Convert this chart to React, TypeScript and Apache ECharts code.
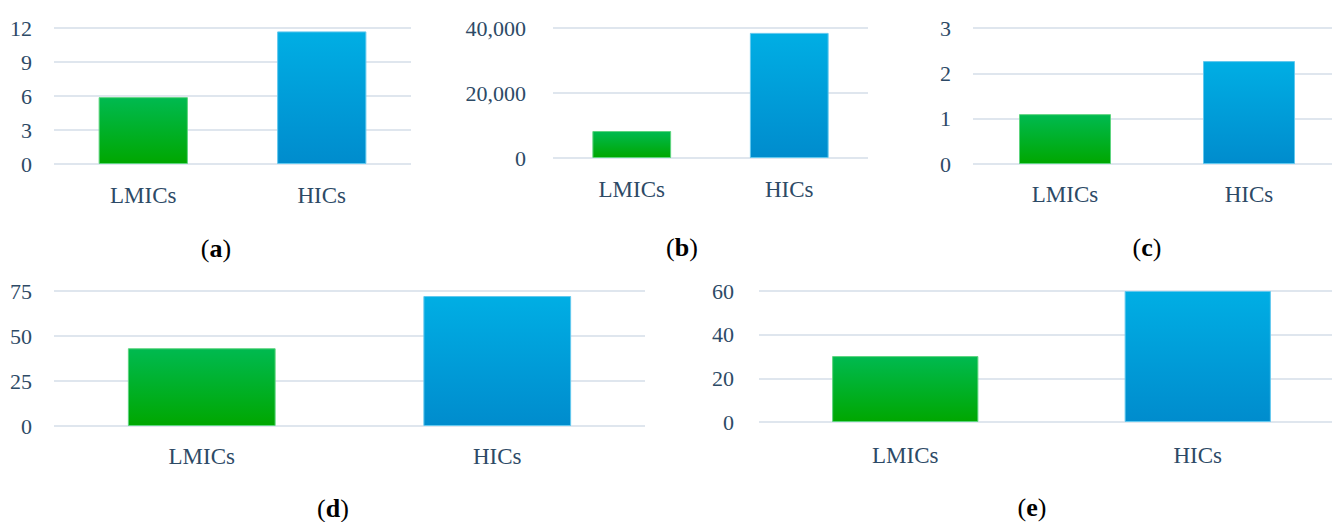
import React, { useEffect, useRef } from "react";
import * as echarts from "echarts";

const categories = ["LMICs", "HICs"];
const valuesA = [5.9, 11.7];
const valuesB = [8300, 38500];
const valuesC = [1.1, 2.27];
const valuesD = [43.2, 72.2];
const valuesE = [30.2, 60];
const panelLetters = ["a", "b", "c", "d", "e"];
const yMax = [12, 40000, 3, 75, 60];
const yStep = [3, 20000, 1, 25, 20];

const FONT = "'Liberation Serif', 'Times New Roman', serif";
const TEXT = "#2d4a66";
const GRID_LINE = "#dfe6ee";

const grids = [
  { left: 54, top: 28, width: 357, height: 136 },
  { left: 553, top: 28, width: 315, height: 130 },
  { left: 973, top: 28, width: 368, height: 136 },
  { left: 54, top: 291, width: 591, height: 135 },
  { left: 759, top: 291, width: 585, height: 131 },
];
const yLabelMargin = [22, 27, 22, 22, 25];
const xLabelMargin = [20, 20, 19, 19, 22];
const captionPos = [
  [216, 248],
  [682, 247],
  [1147, 247],
  [333, 508],
  [1032, 507],
];

const greenGrad = () =>
  new echarts.graphic.LinearGradient(0, 0, 0, 1, [
    { offset: 0, color: "#00ba50" },
    { offset: 1, color: "#00a700" },
  ]);
const blueGrad = () =>
  new echarts.graphic.LinearGradient(0, 0, 0, 1, [
    { offset: 0, color: "#00aee4" },
    { offset: 1, color: "#008ccd" },
  ]);

export default function App() {
  const ref = useRef<HTMLDivElement>(null);
  useEffect(() => {
    document.body.style.margin = "0";
    if (!ref.current) return;
    const chart = echarts.init(ref.current, undefined, { renderer: "svg" });
    const allValues = [valuesA, valuesB, valuesC, valuesD, valuesE];
    const option: any = {
      animation: false,
      backgroundColor: "#ffffff",
      textStyle: { fontFamily: FONT },
      grid: grids.map((g) => ({ ...g, containLabel: false, outerBoundsMode: "none" })),
      xAxis: grids.map((_, i) => ({
        type: "category",
        gridIndex: i,
        data: categories,
        axisLine: { show: false },
        axisTick: { show: false },
        axisLabel: {
          color: TEXT,
          fontFamily: FONT,
          fontSize: 23,
          margin: xLabelMargin[i],
        },
      })),
      yAxis: grids.map((_, i) => ({
        type: "value",
        gridIndex: i,
        min: 0,
        max: yMax[i],
        interval: yStep[i],
        axisLine: { show: false },
        axisTick: { show: false },
        axisLabel: {
          color: TEXT,
          fontFamily: FONT,
          fontSize: 22,
          margin: yLabelMargin[i],
          formatter: (v: number) => v.toLocaleString("en-US"),
        },
        splitLine: { show: true, lineStyle: { color: GRID_LINE, width: 2 } },
      })),
      series: allValues.map((vals, i) => ({
        type: "bar",
        xAxisIndex: i,
        yAxisIndex: i,
        barWidth: "50%",
        data: vals.map((v, j) => ({
          value: v,
          itemStyle: {
            color: j === 0 ? greenGrad() : blueGrad(),
            borderColor: j === 0 ? "#5ed47f" : "#62c8ee",
            borderWidth: 1,
          },
        })),
      })),
      graphic: panelLetters.map((l, i) => ({
        type: "text",
        x: captionPos[i][0],
        y: captionPos[i][1],
        style: {
          text: `{p|(}{b|${l}}{p|)}`,
          align: "center",
          verticalAlign: "middle",
          fill: "#000000",
          rich: {
            p: { fontFamily: FONT, fontSize: 26, fill: "#000000" },
            b: { fontFamily: FONT, fontSize: 26, fontWeight: "bold", fill: "#000000" },
          },
        },
      })),
    };
    chart.setOption(option);
    return () => chart.dispose();
  }, []);
  return (
    <div
      ref={ref}
      style={{ position: "fixed", left: 0, top: 0, width: 1332, height: 522 }}
    />
  );
}
